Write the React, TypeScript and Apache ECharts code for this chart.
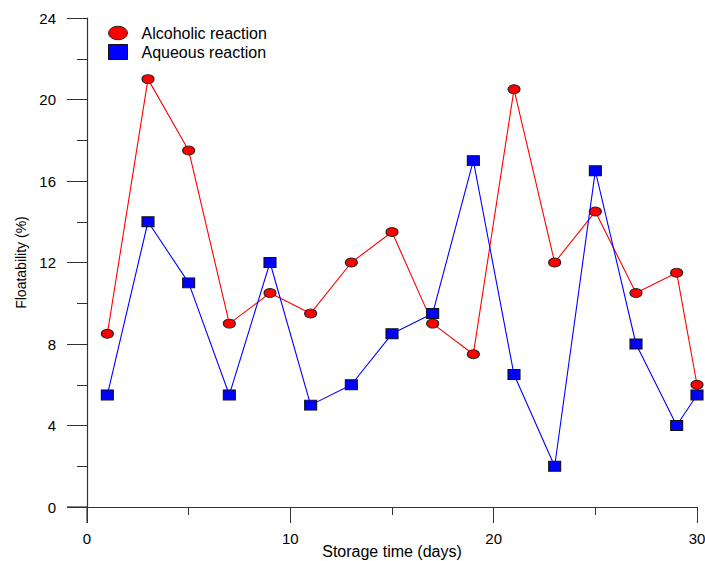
import React, { useEffect, useRef } from "react";
import * as echarts from "echarts";

const days = [1, 3, 5, 7, 9, 11, 13, 15, 17, 19, 21, 23, 25, 27, 29, 30];
const alcoholic = [8.5, 21, 17.5, 9, 10.5, 9.5, 12, 13.5, 9, 7.5, 20.5, 12, 14.5, 10.5, 11.5, 6];
const aqueous = [5.5, 14, 11, 5.5, 12, 5, 6, 8.5, 9.5, 17, 6.5, 2, 16.5, 8, 4, 5.5];
const seriesNames = ["Alcoholic reaction", "Aqueous reaction"];
const xTitle = "Storage time (days)";
const yTitle = "Floatability (%)";

const FONT = "Liberation Sans, Arial, sans-serif";
const ELLIPSE = "path://M0,5 A7,5 0 1,1 14,5 A7,5 0 1,1 0,5 Z";

export default function App() {
  const ref = useRef<HTMLDivElement>(null);
  useEffect(() => {
    const chart = echarts.init(ref.current!, null, { renderer: "svg" });
    const axisLine = { show: true, lineStyle: { color: "#333", width: 1.2 } };
    chart.setOption({
      animation: false,
      backgroundColor: "#fff",
      grid: { left: 87, right: 8, top: 18, bottom: 54, outerBoundsMode: "none", containLabel: false },
      legend: {
        orient: "vertical",
        left: 103,
        top: 20,
        itemWidth: 19,
        itemHeight: 15,
        itemGap: 3,
        textStyle: { fontFamily: FONT, fontSize: 16, color: "#000", padding: [0, 0, 0, 9] },
        data: [
          { name: seriesNames[0], icon: ELLIPSE, itemStyle: { borderColor: "#222", borderWidth: 1 } },
          { name: seriesNames[1], icon: "rect", itemStyle: { borderColor: "#111", borderWidth: 1 } },
        ],
      },
      xAxis: {
        type: "value",
        min: 0,
        max: 30,
        interval: 10,
        name: xTitle,
        nameLocation: "middle",
        nameGap: 36,
        nameMoveOverlap: false,
        nameTextStyle: { fontFamily: FONT, fontSize: 16, color: "#000" },
        axisLine,
        axisTick: { show: true, length: 16, lineStyle: { color: "#333" } },
        minorTick: { show: true, splitNumber: 2, length: 8, lineStyle: { color: "#333" } },
        splitLine: { show: false },
        axisLabel: { fontFamily: FONT, fontSize: 15, color: "#000", margin: 24 },
      },
      yAxis: {
        type: "value",
        min: 0,
        max: 24,
        interval: 4,
        name: yTitle,
        nameLocation: "middle",
        nameGap: 58,
        nameTextStyle: { fontFamily: FONT, fontSize: 14, color: "#000" },
        axisLine,
        axisTick: { show: true, length: 20, lineStyle: { color: "#333" } },
        minorTick: { show: true, splitNumber: 2, length: 10, lineStyle: { color: "#333" } },
        splitLine: { show: false },
        axisLabel: { fontFamily: FONT, fontSize: 15, color: "#000", margin: 31 },
      },
      graphic: [
        { type: "line", shape: { x1: 67, y1: 507, x2: 87, y2: 507 }, style: { stroke: "#333", lineWidth: 1.2 } },
        { type: "line", shape: { x1: 87, y1: 507, x2: 87, y2: 523 }, style: { stroke: "#333", lineWidth: 1.2 } },
      ],
      series: [
        {
          name: seriesNames[0],
          type: "line",
          data: days.map((d, i) => [d, alcoholic[i]]),
          symbol: "circle",
          symbolSize: [12, 9],
          lineStyle: { color: "#ff0000", width: 1.1 },
          itemStyle: { color: "#ff0000", borderColor: "#222", borderWidth: 1 },
          z: 3,
        },
        {
          name: seriesNames[1],
          type: "line",
          data: days.map((d, i) => [d, aqueous[i]]),
          symbol: "rect",
          symbolSize: [12, 10],
          lineStyle: { color: "#0000ff", width: 1.1 },
          itemStyle: { color: "#0000ff", borderColor: "#111", borderWidth: 1 },
          z: 4,
        },
      ],
    });
    return () => chart.dispose();
  }, []);
  return <div ref={ref} style={{ width: 705, height: 561, position: "absolute", left: 0, top: 0 }} />;
}
